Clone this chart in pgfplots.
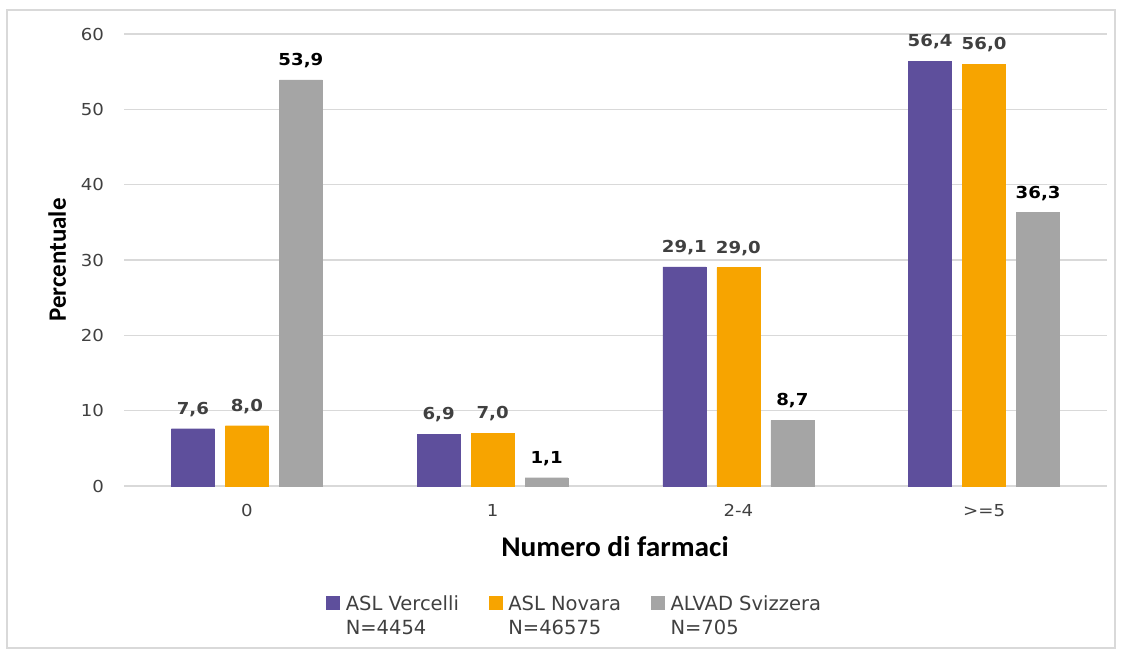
\documentclass[border=0pt]{standalone}
\usepackage{fontspec}
\setmainfont{DejaVu Sans}
\newfontfamily\calibri{Carlito}
\usepackage{pgfplots}
\pgfplotsset{compat=1.18}
\definecolor{cPur}{HTML}{5E4F9C}
\definecolor{cOra}{HTML}{F7A400}
\definecolor{cGry}{HTML}{A5A5A5}
\definecolor{cGrid}{HTML}{D9D9D9}
\definecolor{cTxt}{HTML}{404040}
\begin{document}
\begin{tikzpicture}[x=1pt,y=1pt]
\useasboundingbox (0,0) rectangle (1121,652);
\draw[color=cGrid, line width=1.5pt] (7,4) rectangle (1115,642);
\begin{axis}[
  at={(124pt,166pt)}, anchor=south west,
  scale only axis, width=983pt, height=452pt,
  ymin=0, ymax=60, xmin=-0.5, xmax=3.5,
  ybar=11pt, bar width=43pt,
  clip=false,
  axis line style={draw=none},
  major tick length=0pt,
  ytick={0,10,...,60},
  xtick={0,1,2,3},
  xticklabels={0,1,2-4,{>=5}},
  ymajorgrids,
  grid style={color=cGrid, line width=1.3pt},
  /pgf/number format/assume math mode=true,
  tick label style={font=\fontsize{16.5}{16.5}\selectfont, text=cTxt, inner sep=0pt, xscale=1.1},
  yticklabel style={anchor=east, xshift=-18pt},
  xticklabel style={anchor=base, yshift=-31pt},
  ylabel={Percentuale},
  ylabel style={at={(axis description cs:-0.059,0.5)}, anchor=base, inner sep=0pt, font=\calibri\bfseries\fontsize{25}{25}\selectfont, text=black},
  xlabel={Numero di farmaci},
  xlabel style={at={(axis description cs:0.4995,-0.155)}, anchor=base, inner sep=0pt, xscale=1.03, font=\calibri\bfseries\fontsize{28.5}{28.5}\selectfont, text=black},
  nodes near coords={\pgfmathprintnumber[fixed,fixed zerofill,precision=1,use comma,assume math mode=true]{\pgfplotspointmeta}},
  every node near coord/.append style={font=\bfseries\fontsize{16.5}{16.5}\selectfont, text=cTxt, anchor=base, inner sep=0pt, yshift=14.5pt, xscale=1.1},
  legend style={at={(axis description cs:0.458,-0.288)}, anchor=center, draw=none, fill=none,
    legend columns=3, font=\fontsize{19.5}{24}\selectfont, text=cTxt,
    nodes={align=left, inner sep=1pt},
    /tikz/every odd column/.append style={column sep=5pt},
    /tikz/every even column/.append style={column sep=29pt}},
  legend cell align=left,
  legend image code/.code={\fill[#1] (0pt,7pt) rectangle (13pt,20pt);},
]
\addplot[fill=cPur, draw=cPur] coordinates {(0,7.6) (1,6.9) (2,29.1) (3,56.4)};
\addlegendentry{ASL Vercelli\\N=4454}
\addplot[fill=cOra, draw=cOra] coordinates {(0,8.0) (1,7.0) (2,29.0) (3,56.0)};
\addlegendentry{ASL Novara\\N=46575}
\addplot[fill=cGry, draw=cGry, every node near coord/.append style={text=black}] coordinates {(0,53.9) (1,1.1) (2,8.7) (3,36.3)};
\addlegendentry{ALVAD Svizzera\\N=705}
\end{axis}
\end{tikzpicture}
\end{document}
